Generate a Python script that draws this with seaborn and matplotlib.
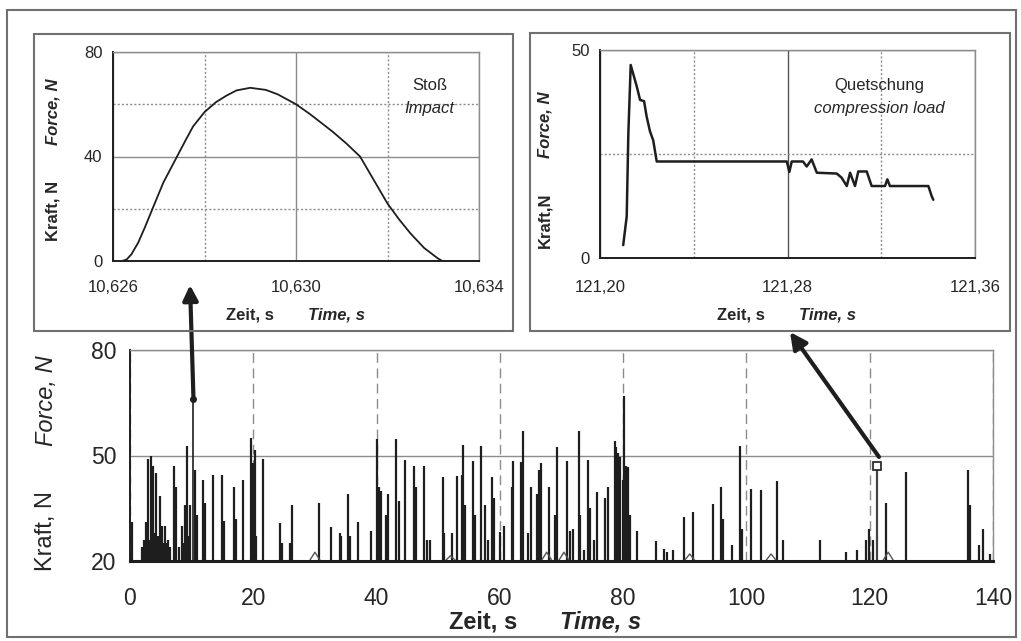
import numpy as np
import matplotlib
matplotlib.use("Agg")
import matplotlib.pyplot as plt
import seaborn as sns
from matplotlib.patches import Rectangle
from matplotlib.ticker import FixedLocator

# ── data ──────────────────────────────────────────────────────────────────────

# main record: spike times (s) and peak forces (N)
spike_t = [0.4, 2.0, 2.3, 2.6, 2.8, 3.0, 3.2, 3.4, 3.6, 3.8, 4.0, 4.2, 4.5, 4.8,
           5.0, 5.2, 5.5, 5.7, 6.0, 6.2, 6.5, 7.1, 7.4, 8.0, 8.5, 8.8, 9.0, 9.3,
           9.5, 9.8, 10.5, 10.9, 11.9, 12.2, 13.5, 15.0, 15.3, 16.9, 17.2, 18.4,
           19.6, 19.9, 20.2, 20.5, 21.6,
           24.3, 24.7, 26.0, 26.2, 30.7, 32.6, 34.0, 34.3, 35.4, 35.7, 37.0,
           39.1, 40.0, 40.4, 40.7, 41.5, 41.9, 43.2, 43.7, 44.6, 46.1, 46.4,
           47.7, 48.1, 48.7,
           50.7, 51.0, 52.3, 53.0, 53.9, 54.1, 54.4, 55.6, 56.0, 57.0, 57.6,
           58.1, 58.7, 59.0, 60.1, 60.7, 61.9, 62.2, 63.4, 63.7, 64.6, 65.1,
           66.0, 66.4, 66.7, 68.0, 68.9, 69.3, 70.9, 71.3, 71.8, 72.8, 73.0,
           73.6, 74.3, 74.6,
           75.3, 75.8, 77.1, 77.6, 78.6, 78.9, 79.2, 79.5, 79.9, 80.2, 80.5,
           80.8, 81.1, 82.3, 85.3, 86.6, 87.1, 88.1, 89.8, 91.3, 94.5, 95.9,
           96.2, 97.6, 99.0, 99.3,
           100.7, 102.4, 105.0, 105.9, 112.0, 116.2, 117.9, 119.4, 119.9,
           120.6, 122.6, 125.9, 136.0, 136.3, 137.8, 138.4, 139.5]
spike_F = [31.2, 24.0, 26.0, 31.0, 25.0, 49.0, 26.0, 50.0, 27.0, 47.0, 28.0, 45.0,
           27.0, 38.5,
           26.0, 30.0, 25.0, 30.0, 25.0, 26.0, 24.0, 47.0, 41.0, 24.0, 30.0, 25.0,
           36.0, 52.7,
           27.0, 36.0, 46.0, 33.0, 43.0, 36.5, 44.5, 44.5, 31.5, 41.0, 32.0, 43.0,
           55.0, 48.0, 51.5, 27.0, 49.0,
           30.8, 25.0, 25.0, 36.0, 36.6, 29.6, 28.0, 27.0, 39.0, 27.0, 31.0,
           28.6, 54.7, 41.0, 40.0, 33.0, 39.0, 54.7, 37.0, 48.8, 46.9, 41.0,
           46.9, 26.0, 26.0,
           44.0, 28.0, 28.0, 44.3, 44.5, 53.0, 36.0, 48.4, 33.0, 52.6, 36.0,
           26.0, 43.9, 38.0, 28.3, 30.0, 41.0, 48.4, 48.2, 57.0, 28.0, 41.0,
           39.0, 46.0, 48.0, 41.0, 33.0, 52.5, 48.4, 28.5, 29.0, 57.0, 33.0,
           23.0, 48.7, 35.0,
           26.0, 39.5, 38.0, 41.0, 54.0, 52.5, 50.8, 49.5, 43.0, 67.0, 47.0,
           46.6, 33.0, 28.5, 25.8, 23.5, 22.5, 23.0, 32.6, 34.0, 36.2, 41.0,
           32.0, 24.5, 52.7, 29.0,
           40.5, 40.3, 42.7, 26.0, 26.0, 22.5, 23.0, 26.0, 29.0,
           26.0, 36.6, 45.4, 45.9, 36.0, 24.5, 29.0, 22.0]

# slow low bumps on the base line
hump_t = [30.0, 52.0, 67.6, 70.4, 90.8, 104.0, 123.0]
hump_F = [22.5, 21.5, 22.5, 22.5, 22.0, 22.0, 22.5]

# the two events that are zoomed in
impact_at, impact_peak = 10.3, 66.0
squeeze_at, squeeze_peak = 121.2, 47.0

# inset 1: impact ("Stoß")
impact_time = [10.6262, 10.6263, 10.6264, 10.62655, 10.6267, 10.62688, 10.6271,
               10.6274, 10.62758, 10.62775, 10.6280, 10.62825, 10.62848, 10.6287,
               10.6290, 10.62934, 10.6296, 10.6300, 10.6303, 10.6305, 10.6308,
               10.6311, 10.6314, 10.6317, 10.6320, 10.63225, 10.6325, 10.6328,
               10.6331, 10.6332]
impact_force = [0.0, 0.6, 2.5, 7.0, 13.0, 20.7, 30.0, 40.0, 46.0, 51.5, 57.0,
                60.8, 63.3, 65.3, 66.3, 65.5, 63.8, 60.0, 56.3, 53.6, 49.5, 45.0,
                40.0, 31.0, 22.0, 16.0, 10.6, 5.0, 1.0, 0.0]

# inset 2: compression load ("Quetschung")
squeeze_time = [121.2099, 121.2114, 121.2121, 121.2131, 121.2157, 121.2171,
                121.2188, 121.2199, 121.2213, 121.2227, 121.2242, 121.2797,
                121.2808, 121.2818, 121.2866, 121.2882, 121.2903, 121.2925,
                121.3010, 121.3031, 121.3053, 121.3067, 121.3088, 121.3102,
                121.3138, 121.3159, 121.3216, 121.3226, 121.3237, 121.3401,
                121.3415, 121.3422]
squeeze_force = [3.1, 10.0, 30.0, 46.4, 41.2, 38.0, 37.7, 34.0, 30.5, 28.3, 23.2,
                 23.2, 20.7, 23.2, 23.2, 22.0, 23.7, 20.5, 20.3, 19.3, 17.3, 20.5,
                 17.3, 20.8, 20.8, 17.3, 17.3, 18.9, 17.3, 17.3, 14.9, 14.0]

main_xticks = [0, 20, 40, 60, 80, 100, 120, 140]
main_yticks = [20, 50, 80]
in1_xticks = [10.626, 10.630, 10.634]
in1_yticks = [0, 40, 80]
in2_xticks = [121.20, 121.28, 121.36]
in2_yticks = [0, 50]

# ── style ─────────────────────────────────────────────────────────────────────

sns.set_style("white")
plt.rcParams["font.family"] = ["Liberation Sans", "DejaVu Sans"]

W, H = 1021, 641
INK = "#1e1e1e"
GRID = "#8c8c8c"


def fx(x):
    return x / W


def fy(y):
    return 1 - y / H


def box(x0, y0, x1, y1, lw=1.5):
    fig.patches.append(Rectangle((fx(x0), fy(y1)), fx(x1) - fx(x0), fy(y0) - fy(y1),
                                 transform=fig.transFigure, fill=False,
                                 edgecolor="#707070", lw=lw, zorder=0))


def comma(vals, nd):
    return [f"{v:.{nd}f}".replace(".", ",") for v in vals]


def frame(ax):
    for s in ("left", "bottom"):
        ax.spines[s].set_color(INK)
        ax.spines[s].set_linewidth(1.4)
    for s in ("top", "right"):
        ax.spines[s].set_color(GRID)
        ax.spines[s].set_linewidth(1.0)
        ax.spines[s].set_visible(True)


fig = plt.figure(figsize=(W / 100, H / 100), dpi=100)
box(7, 10, 1016, 637)
box(34, 34, 513, 331)
box(530, 33, 1010, 331)

# ── main record ───────────────────────────────────────────────────────────────

ax = fig.add_axes([fx(130), fy(561), fx(993) - fx(130), fy(350) - fy(561)])
ax.vlines(spike_t, 20, spike_F, color=INK, lw=1.6)
for t, f in zip(hump_t, hump_F):
    ax.plot([t - 0.9, t, t + 0.9], [20, f, 20], color="#555555", lw=1.0)
ax.vlines([impact_at], 20, impact_peak, color=INK, lw=1.2)
ax.plot([impact_at], [impact_peak], "o", color=INK, ms=4)
ax.vlines([squeeze_at], 20, squeeze_peak, color="#444444", lw=1.6)
ax.plot([squeeze_at], [squeeze_peak], "s", mfc="white", mec=INK, ms=6, mew=1.2)

ax.set_xlim(0, 140)
ax.set_ylim(20, 80)
ax.set_xticks(main_xticks)
ax.set_yticks(main_yticks)
ax.xaxis.grid(True, color=GRID, lw=1.0, linestyle=(0, (7, 4)))
ax.yaxis.grid(True, color=GRID, lw=1.0)
frame(ax)
ax.spines["bottom"].set_linewidth(2.2)
ax.tick_params(axis="x", direction="inout", length=14, width=1.6, color=INK,
               labelsize=16.5, pad=12)
ax.tick_params(axis="y", direction="out", length=7, width=1.2, color=INK,
               labelsize=16.5, pad=3)

fig.text(fx(46), fy(531), "Kraft, N", rotation=90, ha="center", va="center",
         fontsize=17)
fig.text(fx(46), fy(401), "Force, N", rotation=90, ha="center", va="center",
         fontsize=17, style="italic")
fig.text(fx(483), fy(622), "Zeit, s", ha="center", va="center", fontsize=17,
         weight="bold")
fig.text(fx(601), fy(622), "Time, s", ha="center", va="center", fontsize=17,
         weight="bold", style="italic")

# arrows from the events up to the insets
ax.annotate("", xy=(fx(190), fy(285)), xycoords="figure fraction",
            xytext=(impact_at, impact_peak), textcoords="data",
            annotation_clip=False,
            arrowprops=dict(arrowstyle="-|>,head_length=0.9,head_width=0.45",
                            lw=3, color=INK, shrinkA=0, shrinkB=0))
ax.annotate("", xy=(fx(790), fy(332)), xycoords="figure fraction",
            xytext=(squeeze_at + 0.3, squeeze_peak + 2.6), textcoords="data",
            annotation_clip=False,
            arrowprops=dict(arrowstyle="-|>,head_length=1.0,head_width=0.5",
                            lw=3, color=INK, shrinkA=0, shrinkB=0))

# ── inset 1: impact ───────────────────────────────────────────────────────────

a1 = fig.add_axes([fx(113), fy(261), fx(479) - fx(113), fy(52) - fy(261)])
sns.lineplot(x=impact_time, y=impact_force, ax=a1, color=INK, lw=1.3,
             sort=False, estimator=None)
a1.set_xlim(10.626, 10.634)
a1.set_ylim(0, 80)
a1.set_xticks(in1_xticks)
a1.set_xticklabels(comma(in1_xticks, 3))
a1.set_yticks(in1_yticks)
a1.xaxis.set_minor_locator(FixedLocator([10.628, 10.632]))
a1.yaxis.set_minor_locator(FixedLocator([20, 60]))
a1.grid(True, which="major", color=GRID, lw=1.0)
a1.grid(True, which="minor", color=GRID, lw=1.0, linestyle=(0, (1.5, 1.5)))
frame(a1)
a1.tick_params(which="major", direction="out", length=4, width=1.0, color=INK,
               labelsize=12)
a1.tick_params(axis="x", pad=10)
a1.tick_params(which="minor", length=0)
a1.set_xlabel("")
a1.set_ylabel("")
a1.text(0.865, 0.84, "Stoß", transform=a1.transAxes, ha="center", va="center",
        fontsize=12)
a1.text(0.865, 0.73, "Impact", transform=a1.transAxes, ha="center",
        va="center", fontsize=12, style="italic")

fig.text(fx(53), fy(211), "Kraft, N", rotation=90, ha="center", va="center",
         fontsize=12, weight="bold")
fig.text(fx(53), fy(112), "Force, N", rotation=90, ha="center", va="center",
         fontsize=12, weight="bold", style="italic")
fig.text(fx(250), fy(315), "Zeit, s", ha="center", va="center", fontsize=12,
         weight="bold")
fig.text(fx(337), fy(315), "Time, s", ha="center", va="center", fontsize=12,
         weight="bold", style="italic")

# ── inset 2: compression load ─────────────────────────────────────────────────

a2 = fig.add_axes([fx(600), fy(258), fx(975) - fx(600), fy(50) - fy(258)])
sns.lineplot(x=squeeze_time, y=squeeze_force, ax=a2, color=INK, lw=1.8,
             sort=False, estimator=None)
a2.set_xlim(121.20, 121.36)
a2.set_ylim(0, 50)
a2.set_xticks(in2_xticks)
a2.set_xticklabels(comma(in2_xticks, 2))
a2.set_yticks(in2_yticks)
a2.xaxis.set_minor_locator(FixedLocator([121.24, 121.32]))
a2.yaxis.set_minor_locator(FixedLocator([25]))
a2.grid(True, which="major", color="#555555", lw=1.0)
a2.grid(True, which="minor", color=GRID, lw=1.0, linestyle=(0, (1.5, 1.5)))
frame(a2)
a2.tick_params(which="major", direction="out", length=4, width=1.0, color=INK,
               labelsize=12)
a2.tick_params(axis="x", pad=12)
a2.tick_params(which="minor", length=0)
a2.set_xlabel("")
a2.set_ylabel("")
a2.text(0.745, 0.83, "Quetschung", transform=a2.transAxes, ha="center",
        va="center", fontsize=12)
a2.text(0.745, 0.72, "compression load", transform=a2.transAxes, ha="center",
        va="center", fontsize=12, style="italic")

fig.text(fx(545), fy(220), "Kraft,N", rotation=90, ha="center", va="center",
         fontsize=12, weight="bold")
fig.text(fx(545), fy(125), "Force, N", rotation=90, ha="center", va="center",
         fontsize=12, weight="bold", style="italic")
fig.text(fx(741), fy(315), "Zeit, s", ha="center", va="center", fontsize=12,
         weight="bold")
fig.text(fx(827), fy(315), "Time, s", ha="center", va="center", fontsize=12,
         weight="bold", style="italic")

fig.savefig("out.png", dpi=100, facecolor="white")
